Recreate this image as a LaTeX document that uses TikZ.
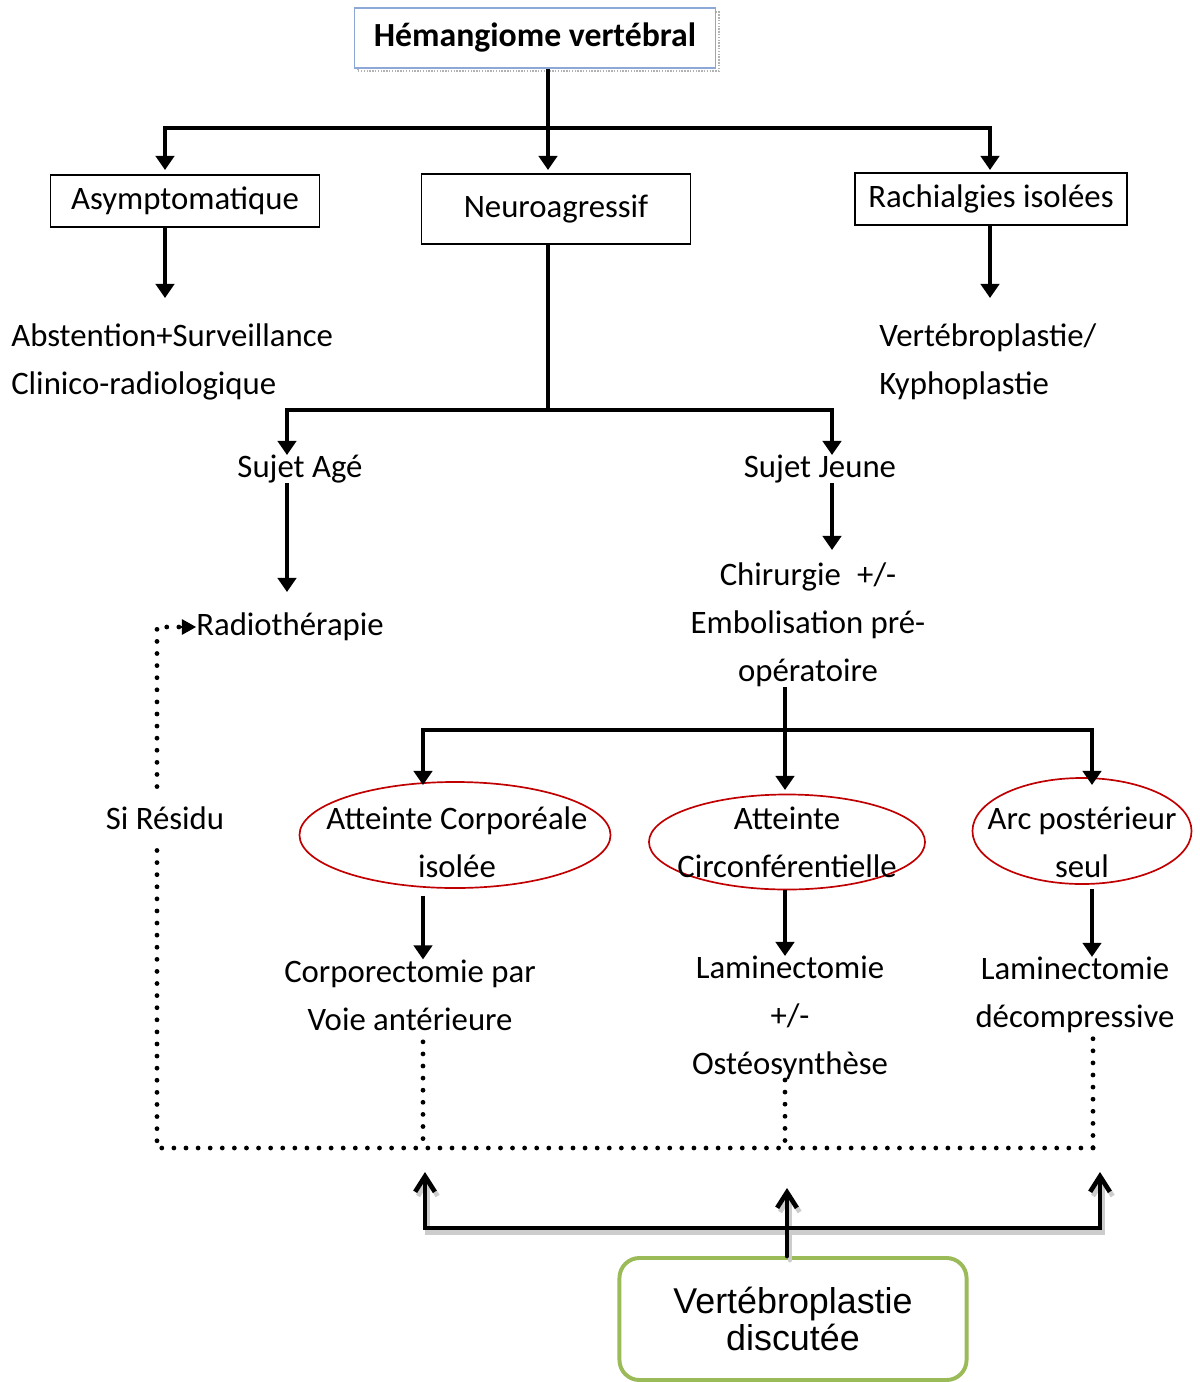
\documentclass[tikz,border=0pt]{standalone}
\usepackage{fontspec}
\setmainfont{Carlito}
\newfontfamily\boxfont{Liberation Sans}
\usetikzlibrary{arrows.meta,shapes.geometric}
\definecolor{titleblue}{RGB}{141,168,214}
\definecolor{ovalred}{RGB}{192,0,0}
\definecolor{boxgreen}{RGB}{155,187,89}

\begin{document}
\begin{tikzpicture}[x=0.025cm,y=-0.025cm]
        \tikzset{txt/.style={font=\fontsize{23.3}{34}\selectfont,align=center,inner sep=0pt},
                 box/.style={txt,draw,line width=1.2pt},
                 oval/.style={ellipse,draw=ovalred,line width=1.2pt,inner sep=0pt},
                 link/.style={line width=3.3pt},
                 arr/.style={link,-{Triangle[length=10pt,width=13pt]}},
                 dots/.style={line width=3.4pt,line cap=round,dash pattern=on 0pt off 8.6pt},
                 uplink/.style={line width=3.3pt,line cap=round},
                 barb/.tip={Straight Barb[length=11pt,width=14pt]}} % bottom arrows
        \useasboundingbox (0,0) rectangle (1199,1382);
        % title
        \draw[gray!60,densely dotted,line width=1pt] (358,12) rectangle (719,71);
        \node[box,draw=titleblue,line width=1pt,fill=white,minimum width=9.025cm,minimum height=1.5cm,font=\fontsize{24}{34}\selectfont\bfseries] (hem) at (535,38) {Hémangiome vertébral};
        % first level
        \node[box,minimum width=6.725cm,minimum height=1.3cm] (asy) at (185,201) {Asymptomatique};
        \node[box,minimum width=6.725cm,minimum height=1.75cm] (neuro) at (556,209) {Neuroagressif};
        \node[box,minimum width=6.8cm,minimum height=1.3cm] (rach) at (991,199) {Rachialgies isolées};
        \node[txt,align=left,anchor=west] (abst) at (11,362) {Abstention+Surveillance\\Clinico-radiologique};
        \node[txt,align=left,anchor=west] (vert) at (879,362) {Vertébroplastie/\\Kyphoplastie};
        % neuroagressif
        \node[txt] (agee) at (300,469) {Sujet Agé};
        \node[txt] (jeune) at (820,469) {Sujet Jeune};
        \node[txt,anchor=west] (radio) at (196,627) {Radiothérapie};
        \node[txt] (chir) at (808,625) {Chirurgie\enspace+/-\\Embolisation pré-\\opératoire};
        \node[txt,inner ysep=14pt] (resid) at (165,818) {Si Résidu};
        % lesions
        \node[oval,minimum width=7.775cm,minimum height=2.65cm] (ell1) at (455,835) {};
        \node[oval,minimum width=6.9cm,minimum height=2.375cm] (ell2) at (787,842) {};
        \node[oval,minimum width=5.475cm,minimum height=2.65cm] (ell3) at (1082,831) {};
        \node[txt] (t1) at (457,842) {Atteinte Corporéale\\isolée};
        \node[txt] (t2) at (787,842) {Atteinte\\Circonférentielle};
        \node[txt] (t3) at (1082,842) {Arc postérieur\\seul};
        \node[txt] (corp) at (410,995) {Corporectomie par\\Voie antérieure};
        \node[txt] (lam) at (790,1018) {Laminectomie\\+/-\\Ostéosynthèse};
        \node[txt] (lamd) at (1075,995) {Laminectomie\\décompressive};
        \node[txt,draw=boxgreen,line width=2.8pt,rounded corners=0.5cm,minimum width=8.675cm,minimum height=3.05cm,font=\boxfont\fontsize{25.5}{26}\selectfont] (vb) at (793,1319) {Vertébroplastie\\discutée};
        % junctions
        \coordinate (top) at (548,128);
        \coordinate (a1) at (165,170);
        \coordinate (n1) at (548,170);
        \coordinate (r1) at (990,170);
        \coordinate (a2) at (165,298);
        \coordinate (r2) at (990,298);
        \coordinate (split) at (548,410);
        \coordinate (s1) at (287,455);
        \coordinate (s2) at (832,455);
        \coordinate (g2) at (287,592);
        \coordinate (j2) at (832,550);
        \coordinate (c1) at (785,730);
        \coordinate (e1) at (423,785);
        \coordinate (e2) at (785,790);
        \coordinate (e3) at (1092,785);
        \coordinate (d0) at (157,1148);
        \coordinate (d1) at (423,1148);
        \coordinate (d2) at (785,1148);
        \coordinate (d3) at (1093,1148);
        \coordinate (bar) at (787,1228);
        \coordinate (u1) at (425,1172);
        \coordinate (u2) at (787,1188);
        \coordinate (u3) at (1100,1172);
        % arrows
        \draw[link] (hem.south -| top) -- (top);
        \draw[arr] (top) -| (a1);
        \draw[arr] (top) -- (n1);
        \draw[arr] (top) -| (r1);
        \draw[arr] (asy.south -| a1) -- (a2);
        \draw[arr] (rach.south -| r1) -- (r2);
        \draw[link] (neuro.south -| top) -- (split);
        \draw[arr] (split) -| (s1);
        \draw[arr] (split) -| (s2);
        \draw[arr] (agee.south -| s1) -- (g2);
        \draw[arr] (jeune.south -| s2) -- (j2);
        \draw[link] (chir.south -| c1) -- (c1);
        \draw[arr] (c1) -| (e1);
        \draw[arr] (c1) -- (e2);
        \draw[arr] (c1) -| (e3);
        \draw[arr] ([yshift=-5pt]ell1.south -| e1) -- (corp.north -| e1);
        \draw[arr] (ell2.south -| e2) -- (lam.north -| e2);
        \draw[arr] ([yshift=-3pt]ell3.south -| e3) -- (lamd.north -| e3);
        % residue loop
        \draw[dots] ([yshift=-8pt]corp.south -| d1) -- (d1);
        \draw[dots] (lam.south -| d2) -- (d2);
        \draw[dots] ([yshift=-4pt]lamd.south -| d3) -- (d3);
        \draw[dots] (d3) -- (d0) -- (resid.south -| d0);
        \draw[dots] (resid.north -| d0) |- ([xshift=-12pt]radio.west);
        \draw[line width=1pt,-{Triangle[length=10pt,width=11pt]}] ([xshift=-12pt]radio.west) -- (radio.west);
        % vertebroplasty
        \begin{scope}[transform canvas={xshift=2pt,yshift=-3pt},gray!40]
        \draw[uplink,barb-barb] (u1) |- (bar) -| (u3);
        \draw[uplink,-barb] (vb.north -| bar) -- (u2);
        \end{scope}
        \draw[uplink,barb-barb] (u1) |- (bar) -| (u3);
        \draw[uplink,-barb] (vb.north -| bar) -- (u2);
\end{tikzpicture}
\end{document}
